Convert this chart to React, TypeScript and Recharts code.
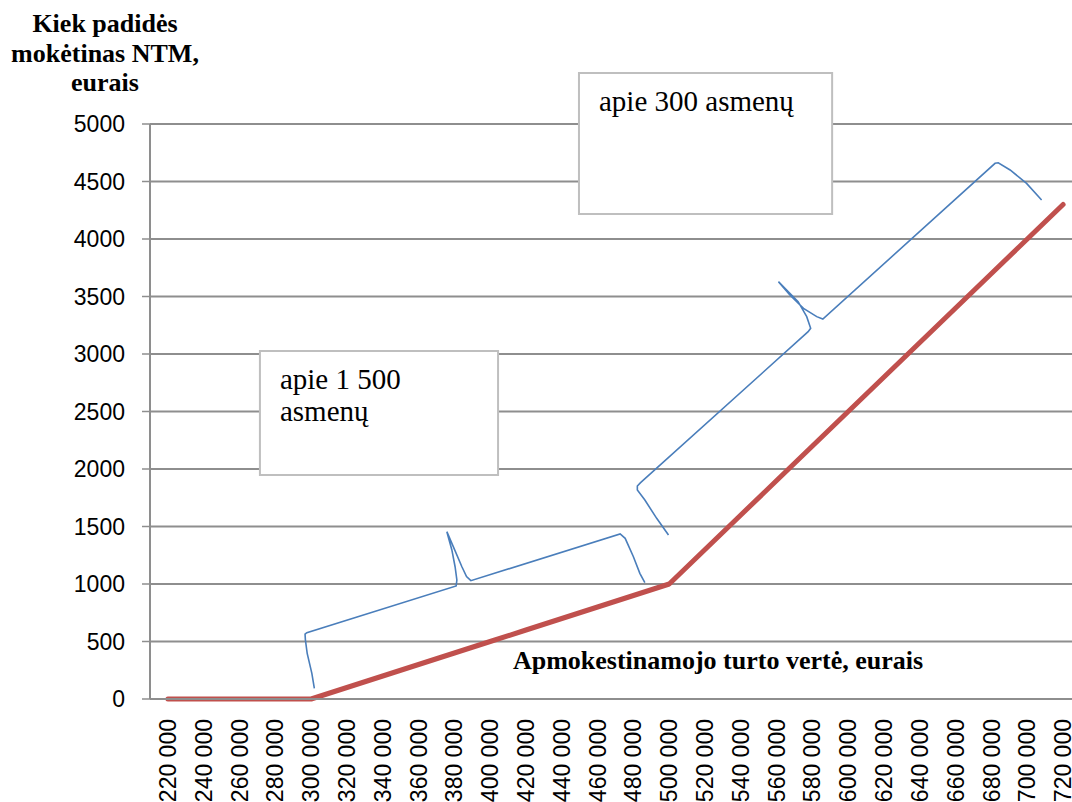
import React from 'react';
import { ComposedChart, Line, Scatter, XAxis, YAxis, CartesianGrid, ReferenceArea } from 'recharts';

const categories = [
  '220 000', '240 000', '260 000', '280 000', '300 000', '320 000', '340 000',
  '360 000', '380 000', '400 000', '420 000', '440 000', '460 000', '480 000',
  '500 000', '520 000', '540 000', '560 000', '580 000', '600 000', '620 000',
  '640 000', '660 000', '680 000', '700 000', '720 000',
];

const taxIncrease = [
  0, 0, 0, 0, 0, 100, 200, 300, 400, 500, 600, 700, 800, 900,
  1000, 1300, 1600, 1900, 2200, 2500, 2800, 3100, 3400, 3700, 4000, 4300,
];

const yTicks = [0, 500, 1000, 1500, 2000, 2500, 3000, 3500, 4000, 4500, 5000];

// brace annotations, x in category slots (0..26), y in euros
const braceLow = [
  [4.59, 93], [4.52, 223], [4.39, 397], [4.34, 513], [4.33, 565], [4.38, 577],
  [8.55, 983], [8.57, 1035], [8.52, 1150], [8.43, 1296], [8.29, 1455],
  [8.47, 1325], [8.71, 1150], [8.84, 1064], [8.96, 1029],
  [13.13, 1435], [13.27, 1397], [13.5, 1237], [13.68, 1093], [13.82, 1011],
];

const braceHigh = [
  [14.48, 1426], [14.15, 1571], [13.82, 1730], [13.61, 1817], [13.61, 1852], [13.7, 1881],
  [18.38, 3194], [18.45, 3223], [18.34, 3325], [18.1, 3455], [17.78, 3557], [17.55, 3629],
  [17.87, 3513], [18.25, 3397], [18.62, 3325], [18.79, 3304],
  [23.6, 4658], [23.69, 4663], [24.02, 4600], [24.48, 4484], [24.9, 4339],
];

const boxLowText = ['apie 1 500', 'asmenų'];
const boxHighText = ['apie 300 asmenų'];

const yTitle = ['Kiek padidės', 'mokėtinas NTM,', 'eurais'];
const xTitle = 'Apmokestinamojo turto vertė, eurais';

const rows = categories.map((label, i) => ({ x: i + 0.5, y: taxIncrease[i], label }));
const labelTicks = rows.map((r) => r.x);
const edgeTicks = categories.map((_, i) => i).concat(categories.length);
const toPoints = (pts: number[][]) => pts.map(([x, y]) => ({ x, y }));

const AXIS = '#8e8e8e';
const SERIF = '"Liberation Serif", "Times New Roman", serif';
const SANS = '"Liberation Sans", Arial, sans-serif';

const CategoryTick = (props: any) => {
  const { x, y, payload } = props;
  const label = categories[Math.floor(payload.value)];
  return (
    <text
      x={x}
      y={y}
      dy="0.35em"
      textAnchor="end"
      transform={`rotate(-90, ${x}, ${y})`}
      fontFamily={SANS}
      fontSize={23}
      fill="#000"
    >
      {label}
    </text>
  );
};

const BoxText = (props: any) => {
  const { viewBox, lines } = props;
  if (!viewBox) return null;
  return (
    <text fontFamily={SERIF} fontSize={29} fill="#000">
      {lines.map((t: string, i: number) => (
        <tspan key={i} x={viewBox.x + 20} y={viewBox.y + 38 + i * 32}>
          {t}
        </tspan>
      ))}
    </text>
  );
};

const YTitle = (props: any) => {
  const { viewBox } = props;
  if (!viewBox) return null;
  const baselines = [-92, -62, -33];
  return (
    <text fontFamily={SERIF} fontSize={26} fontWeight="bold" fill="#000" textAnchor="middle">
      {yTitle.map((t, i) => (
        <tspan key={i} x={viewBox.x + 105} y={viewBox.y + baselines[i]}>
          {t}
        </tspan>
      ))}
    </text>
  );
};

const XTitle = (props: any) => {
  const { viewBox } = props;
  if (!viewBox) return null;
  return (
    <text
      x={viewBox.x + 568}
      y={viewBox.y - 31}
      fontFamily={SERIF}
      fontSize={26}
      fontWeight="bold"
      fill="#000"
      textAnchor="middle"
    >
      {xTitle}
    </text>
  );
};

export default function App() {
  return (
    <div style={{ position: 'absolute', left: 0, top: 0, width: 1072, height: 802, overflow: 'hidden', background: '#fff' }}>
      <ComposedChart width={1090} height={802} data={rows} margin={{ top: 124, right: 9, bottom: 0, left: 0 }}>
        <CartesianGrid xAxisId="main" vertical={false} stroke={AXIS} strokeWidth={2} />
        <XAxis
          xAxisId="edges"
          type="number"
          domain={[0, categories.length]}
          allowDataOverflow
          ticks={edgeTicks}
          interval={0}
          tick={false}
          height={1}
          tickSize={8}
          tickLine={{ stroke: AXIS, strokeWidth: 1.5 }}
          axisLine={{ stroke: AXIS, strokeWidth: 2 }}
        />
        <XAxis
          xAxisId="main"
          dataKey="x"
          type="number"
          domain={[0, categories.length]}
          allowDataOverflow
          ticks={labelTicks}
          interval={0}
          height={102}
          tickSize={8}
          tickMargin={11}
          tickLine={false}
          axisLine={false}
          tick={(p: any) => <CategoryTick {...p} />}
          label={<XTitle />}
        />
        <YAxis
          dataKey="y"
          type="number"
          domain={[0, 5000]}
          ticks={yTicks}
          interval={0}
          width={150}
          tickSize={8}
          tickMargin={17}
          tick={{ fontFamily: SANS, fontSize: 23, fill: '#000' }}
          tickLine={{ stroke: AXIS, strokeWidth: 1.5 }}
          axisLine={{ stroke: AXIS, strokeWidth: 2 }}
          label={<YTitle />}
        />
        <ReferenceArea
          xAxisId="main"
          x1={3.07}
          x2={9.72}
          y1={1948}
          y2={3026}
          ifOverflow="visible"
          fill="#fff"
          fillOpacity={1}
          stroke="#bfbfbf"
          strokeWidth={2}
          label={<BoxText lines={boxLowText} />}
        />
        <ReferenceArea
          xAxisId="main"
          x1={11.98}
          x2={19.05}
          y1={4217}
          y2={5443}
          ifOverflow="visible"
          fill="#fff"
          fillOpacity={1}
          stroke="#bfbfbf"
          strokeWidth={2}
          label={<BoxText lines={boxHighText} />}
        />
        <Scatter
          xAxisId="main"
          data={toPoints(braceLow)}
          fill="#4a7ebb"
          line={{ stroke: '#4a7ebb', strokeWidth: 1.6 }}
          lineType="joint"
          shape={() => <g />}
          isAnimationActive={false}
        />
        <Scatter
          xAxisId="main"
          data={toPoints(braceHigh)}
          fill="#4a7ebb"
          line={{ stroke: '#4a7ebb', strokeWidth: 1.6 }}
          lineType="joint"
          shape={() => <g />}
          isAnimationActive={false}
        />
        <Line
          xAxisId="main"
          dataKey="y"
          stroke="#c0504d"
          strokeWidth={5}
          strokeLinecap="round"
          strokeLinejoin="round"
          dot={false}
          activeDot={false}
          isAnimationActive={false}
        />
      </ComposedChart>
    </div>
  );
}
